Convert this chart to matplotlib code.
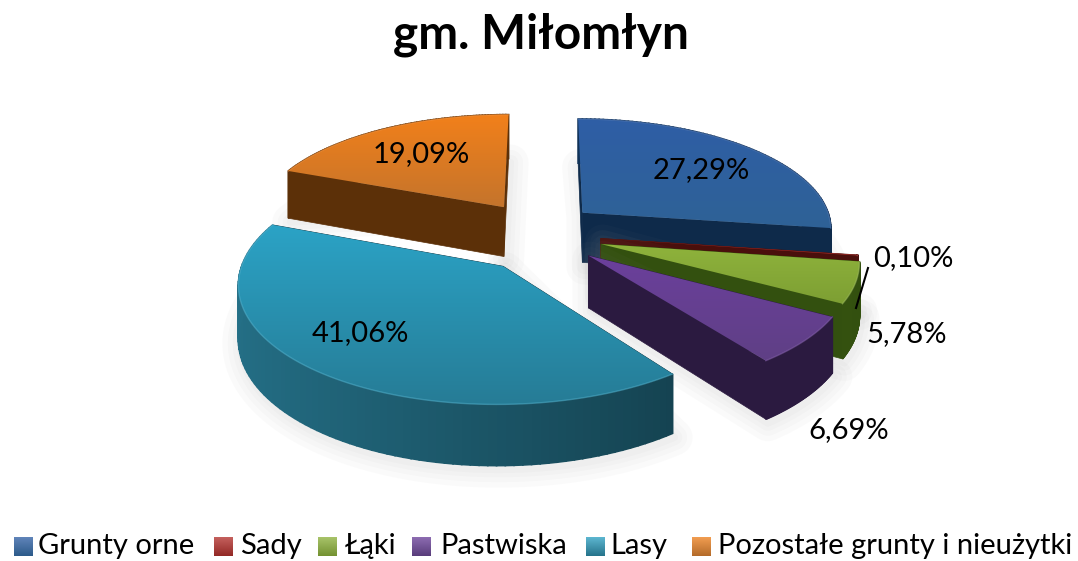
import numpy as np
import matplotlib
matplotlib.use('Agg')
import matplotlib.pyplot as plt
from matplotlib.colors import to_rgb
from matplotlib.patches import Polygon

# Dane z wykresu
kategorie = ['Grunty orne', 'Sady', 'Łąki', 'Pastwiska', 'Lasy', 'Pozostałe grunty i nieużytki']
udzialy = [27.29, 0.10, 5.78, 6.69, 41.06, 19.09]
tytul = 'gm. Miłomłyn'

# Kolory: gora plastra (jasny, ciemny), bok (jasny, ciemny)
kolor_gora = [('#2f5ea6', '#2e6296'), ('#b5302c', '#a02a26'), ('#8fb33c', '#7d9f33'),
              ('#6b3f9c', '#5f4085'), ('#2ba3c6', '#267c96'), ('#f2801a', '#c4742c')]
kolor_bok = [('#123a66', '#0e2a4a'), ('#5a120e', '#4a0f0c'), ('#3f5c12', '#33500f'),
             ('#2b1a40', '#2b1a40'), ('#246f86', '#113844'), ('#5c3008', '#5c3008')]
# Wysuniecie plastrow (poziomo, w glab)
wysuniecie_x = [0.152, 0.22, 0.22, 0.168, -0.16, -0.168]
wysuniecie_y = [0.197, -0.04, -0.09, -0.19, -0.28, 0.25]

# Rzut perspektywiczny
CX, CY = 545, 234
RX, RY = 252, 111
K = 0.13
H = 51

# Miejsca podpisow i legendy
pos_etykiet = [(701, 170), (913, 258), (907, 334), (849, 430), (360, 333), (421, 154)]
pos_legendy = [(14, 38), (214, 240), (318, 345), (412, 440), (586, 610), (692, 718)]


def rzut(x, y, z=0.0):
    s = 1 / (1 + K * y)
    return CX + RX * x * s, CY - RY * y * s + H * s * z


def mieszaj(c1, c2, t):
    a, b = np.array(to_rgb(c1)), np.array(to_rgb(c2))
    return tuple(a + (b - a) * t)


def gradient(ax, pts, c1, c2, zorder):
    # Pionowy gradient przyciety do wielokata
    pts = np.array(pts)
    t = np.linspace(0, 1, 64)[:, None]
    img = np.array(to_rgb(c1)) * (1 - t) + np.array(to_rgb(c2)) * t
    im = ax.imshow(img[:, None, :], extent=[pts[:, 0].min() - 1, pts[:, 0].max() + 1,
                                            pts[:, 1].max() + 1, pts[:, 1].min() - 1],
                   aspect='auto', zorder=zorder, interpolation='bilinear')
    patch = Polygon(pts, closed=True, facecolor='none', edgecolor='none', transform=ax.transData)
    ax.add_patch(patch)
    im.set_clip_path(patch)


def plaster(ax, start, stop, ox, oy, gora, bok, z0):
    th = np.linspace(start, stop, 90)
    xs, ys = ox + np.sin(th), oy + np.cos(th)

    gorne = [rzut(x, y) for x, y in zip(xs, ys)]
    dolne = [rzut(x, y, 1) for x, y in zip(xs, ys)]
    srodek_g = rzut(ox, oy)
    srodek_d = rzut(ox, oy, 1)

    # Miekki cien pod plastrem
    obrys = np.array(dolne + [srodek_d] + [srodek_g])
    for lw in (26, 18, 11, 5):
        ax.add_patch(Polygon(obrys + [2, 4], closed=True, facecolor='none', edgecolor='#8a8a8a',
                             lw=lw, alpha=0.035, joinstyle='round', zorder=z0))

    # Sciany przy promieniach
    ax.add_patch(Polygon([gorne[0], srodek_g, srodek_d, dolne[0]], closed=True,
                         facecolor=bok[1], edgecolor=bok[1], lw=0.5, zorder=z0 + 1))
    ax.add_patch(Polygon([gorne[-1], srodek_g, srodek_d, dolne[-1]], closed=True,
                         facecolor=bok[1], edgecolor=bok[1], lw=0.5, zorder=z0 + 1))

    # Sciana zewnetrzna, cieniowana wzdluz luku
    for i in range(len(th) - 1):
        t = (1 - np.sin((th[i] + th[i + 1]) / 2)) / 2
        kol = mieszaj(bok[1], bok[0], t)
        ax.add_patch(Polygon([gorne[i], gorne[i + 1], dolne[i + 1], dolne[i]], closed=True,
                             facecolor=kol, edgecolor=kol, lw=1.2, zorder=z0 + 2))

    # Gora plastra
    gradient(ax, gorne + [srodek_g], gora[0], gora[1], z0 + 3)
    g = np.array(gorne)
    ax.plot(g[:, 0], g[:, 1], color=mieszaj(gora[0], '#ffffff', 0.2), lw=1.0, alpha=0.5, zorder=z0 + 4)


fig = plt.figure(figsize=(10.78, 5.61), dpi=100)
ax = fig.add_axes([0, 0, 1, 1])
plt.rcParams['font.family'] = ['Lato', 'DejaVu Sans']

granice = np.cumsum([0] + udzialy) / sum(udzialy) * 2 * np.pi

# Kolejnosc rysowania: od tylu do przodu
for n, i in enumerate([5, 0, 1, 2, 3, 4]):
    plaster(ax, granice[i], granice[i + 1], wysuniecie_x[i], wysuniecie_y[i],
            kolor_gora[i], kolor_bok[i], 10 * (n + 1))

# Linia odniesienia do 0,10%
ax.plot([868, 856], [268, 308], color='black', lw=1.5, zorder=80)

for v, (x, y) in zip(udzialy, pos_etykiet):
    ax.text(x, y, f'{v:.2f}'.replace('.', ',') + '%', fontsize=21, ha='center', va='center',
            color='black', zorder=90)

ax.text(541, 35, tytul, fontsize=34.4, fontweight='bold', ha='center', va='center', color='black')

# Legenda
for nazwa, kol, (xk, xt) in zip(kategorie, kolor_gora, pos_legendy):
    gradient(ax, [(xk, 537), (xk + 19, 537), (xk + 19, 556), (xk, 556)],
             mieszaj(kol[0], '#ffffff', 0.25), mieszaj(kol[1], '#000000', 0.1), 5)
    ax.text(xt, 546, nazwa, fontsize=21, ha='left', va='center', color='black')

ax.set_xlim(0, 1078)
ax.set_ylim(561, 0)
ax.axis('off')
fig.savefig('out.png', dpi=100, facecolor='white')
